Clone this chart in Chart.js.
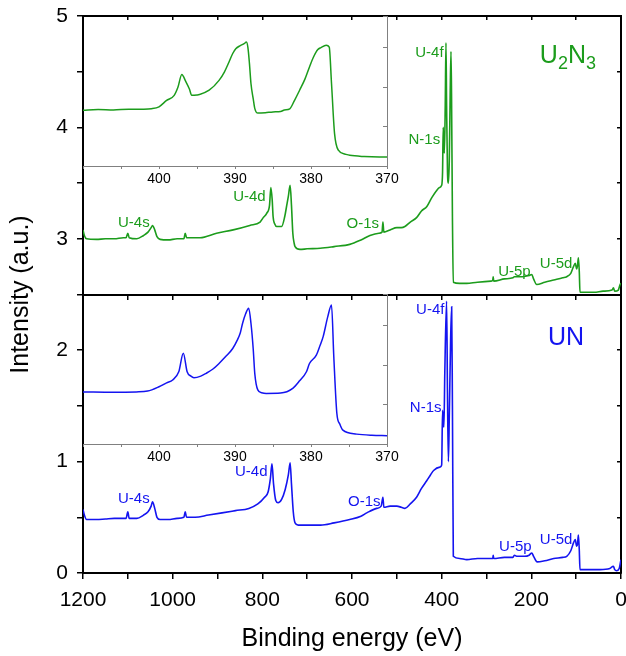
<!DOCTYPE html>
<html lang="en">
<head>
<meta charset="UTF-8">
<title>XPS survey U2N3 / UN</title>
<script src="https://cdn.jsdelivr.net/npm/chart.js@4"></script>
<style>
  body { margin: 0; background: #fff; }
  #wrap { position: relative; width: 626px; height: 656px; }
  #wrap canvas { position: absolute; }
</style>
</head>
<body>
<div id="wrap">
  <canvas id="main" width="626" height="656" style="left:0;top:0"></canvas>
  <canvas id="insetTop" width="350" height="200" style="left:60px;top:0px"></canvas>
  <canvas id="insetBot" width="350" height="200" style="left:60px;top:278px"></canvas>
</div>
<script>
// survey spectra (binding energy in eV, intensity in a.u., offset as plotted)
const energyU2N3 = [1200,1197,1192,1170,1150,1130,1110,1104,1100,1097,1080,1065,1055,1048,1045,1040,1035,1028,1010,990,975,972,969,939,902,865,828,805,798,790,784,781,778,776,772,768,757,750,746,742,738,735,732,729,727,716,700,671,640,605,580,560,540,533,531,529,515,500,490,482,470,456,445,433,422,412,405,400,398,396.5,395,394,392,390.4,389,387,385,383,381,379.2,378,376,374,360,344,320,290,286,285,284,260,241,238,220,205,199,195,188,170,150,130,121,112,106,102,99,97,95,93,91.5,80,60,40,20,17,14,6,2,0];
const intensityU2N3 = [3.08,3.03,3.00,2.995,3.0,3.0,3.01,3.01,3.05,3.01,3.0,3.03,3.06,3.1,3.12,3.08,3.02,2.995,2.99,3.0,3.0,3.05,3.01,3.01,3.05,3.08,3.12,3.15,3.19,3.23,3.3,3.46,3.35,3.2,3.13,3.11,3.11,3.2,3.29,3.38,3.48,3.3,3.05,2.96,2.93,2.905,2.91,2.915,2.93,2.95,2.99,3.03,3.05,3.06,3.15,3.06,3.08,3.1,3.1,3.11,3.15,3.19,3.25,3.29,3.37,3.43,3.46,3.48,3.6,4.0,3.82,3.77,4.2,4.76,4.2,3.6,3.5,3.7,4.3,4.68,4.3,3.2,2.61,2.6,2.6,2.61,2.62,2.63,2.66,2.62,2.64,2.65,2.66,2.66,2.67,2.68,2.64,2.59,2.61,2.63,2.65,2.66,2.69,2.75,2.78,2.73,2.76,2.83,2.7,2.52,2.52,2.52,2.53,2.54,2.56,2.53,2.54,2.59,2.6];

const energyUN = [1200,1197,1192,1170,1150,1130,1104,1100,1097,1080,1065,1055,1048,1045,1040,1035,1028,1010,990,975,972,969,950,920,890,860,830,810,795,787,782,778.5,775,770,765,757,749,742,738,735,731,727,720,700,670,640,605,580,567,545,535,531,529,515,500,490,482,470,456,445,433,425,418,404,400,398,396.5,395,393,389,387,385,383,380,377.7,376,374,360,344,320,290,286,285,284,260,241,238,233,215,205,199,195,187,170,150,130,121,112,106,102,99,97,95,93,91.5,70,47,25,17,14,10,4,1,0];
const intensityUN = [0.57,0.52,0.48,0.48,0.485,0.49,0.49,0.55,0.49,0.49,0.52,0.55,0.6,0.64,0.58,0.5,0.48,0.48,0.49,0.5,0.55,0.5,0.5,0.52,0.54,0.56,0.58,0.62,0.68,0.73,0.85,0.98,0.8,0.65,0.63,0.66,0.75,0.88,0.99,0.8,0.55,0.45,0.43,0.43,0.43,0.45,0.48,0.51,0.54,0.58,0.6,0.68,0.59,0.6,0.6,0.59,0.58,0.62,0.68,0.76,0.83,0.88,0.92,0.95,0.97,1.46,1.35,1.31,1.8,2.44,1.6,1.0,1.4,2.1,2.39,1.5,0.15,0.13,0.12,0.13,0.13,0.13,0.16,0.13,0.14,0.14,0.16,0.15,0.15,0.16,0.18,0.15,0.1,0.11,0.13,0.14,0.15,0.2,0.27,0.3,0.24,0.26,0.34,0.2,0.03,0.03,0.03,0.04,0.06,0.03,0.02,0.04,0.1,0.12];

// inset: U-4f / N-1s region
const insetEnergyU2N3 = [410,408,406,404,402,401,400,399,398,397.5,397,396.5,396,395.7,395,394.7,393.4,392.1,391.4,390.8,390.3,389.9,389.3,388.8,388.5,388.3,388.1,387.9,387.6,387.4,387,386,385,384,383.5,382.8,382.2,381.5,380.8,380.2,379.7,379.1,378.7,378,377.6,377.3,376.9,376.4,375.5,374.9,373,371,370];
const insetIntensityU2N3 = [1.41,1.43,1.42,1.44,1.44,1.45,1.5,1.66,1.79,2.0,2.32,2.15,1.95,1.79,1.8,1.81,1.92,2.17,2.38,2.63,2.85,2.97,3.05,3.1,3.14,3.0,2.6,2.09,1.7,1.46,1.34,1.35,1.37,1.38,1.42,1.45,1.65,1.92,2.2,2.51,2.75,2.95,3.0,3.06,3.01,2.09,0.82,0.4,0.3,0.27,0.24,0.23,0.23];
const insetEnergyUN = [410,406,403,401.5,400,399,398.2,397.4,396.8,396.3,395.8,395.4,394.5,393.8,392.9,392.1,391.2,390.3,389.7,389.3,389,388.6,388.2,387.9,387.6,387.4,387,386.5,385.9,384,382.4,381.5,380.6,380.2,379.3,378.8,378.4,377.8,377.3,377,376.6,376.2,375.8,374,372,370];
const insetIntensityUN = [1.32,1.31,1.32,1.34,1.45,1.55,1.62,1.83,2.3,1.83,1.72,1.68,1.72,1.79,1.9,2.04,2.22,2.42,2.63,2.82,3.06,3.3,3.44,3.06,2.4,1.79,1.37,1.3,1.28,1.29,1.41,1.6,1.83,2.04,2.25,2.5,2.72,3.22,3.52,2.21,0.78,0.5,0.35,0.25,0.22,0.21];

const insetTicks = [400, 390, 380, 370];
const mainTicks = [1200, 1000, 800, 600, 400, 200, 0];

const GREEN = '#1c9c1c';
const BLUE = '#1414f0';
Chart.defaults.font.family = "'Liberation Sans', Arial, sans-serif";

function pts(xs, ys) { return xs.map((x, i) => ({ x: x, y: ys[i] })); }

// no label-overflow padding: the chart area is set by layout.padding only
function noPad(s) { s.paddingLeft = 0; s.paddingRight = 0; s.paddingTop = 0; s.paddingBottom = 0; }

// peak labels, anchored at (energy, intensity); left/middle aligned
const peakLabelsU2N3 = [
  { t: 'U-4s', x: 1122, y: 3.14 }, { t: 'U-4d', x: 865, y: 3.375 },
  { t: 'O-1s', x: 612, y: 3.13 }, { t: 'N-1s', x: 474, y: 3.89 },
  { t: 'U-4f', x: 459, y: 4.665 }, { t: 'U-5p', x: 274, y: 2.705 },
  { t: 'U-5d', x: 181, y: 2.774 }
];
const peakLabelsUN = [
  { t: 'U-4s', x: 1122, y: 0.67 }, { t: 'U-4d', x: 861, y: 0.909 },
  { t: 'O-1s', x: 609, y: 0.64 }, { t: 'N-1s', x: 471, y: 1.478 },
  { t: 'U-4f', x: 457, y: 2.36 }, { t: 'U-5p', x: 272, y: 0.236 },
  { t: 'U-5d', x: 181, y: 0.296 }
];

const labelPlugin = {
  id: 'peakLabels',
  afterDraw(chart) {
    const ctx = chart.ctx, sx = chart.scales.x, sy = chart.scales.y;
    ctx.save();
    ctx.textAlign = 'left';
    ctx.textBaseline = 'middle';
    const groups = [[peakLabelsU2N3, GREEN], [peakLabelsUN, BLUE]];
    ctx.font = "15px 'Liberation Sans', Arial, sans-serif";
    groups.forEach(([items, col]) => {
      ctx.fillStyle = col;
      items.forEach(it => ctx.fillText(it.t, sx.getPixelForValue(it.x), sy.getPixelForValue(it.y)));
    });
    // sample names, with subscripts
    const drawParts = (parts, x, y, col) => {
      ctx.fillStyle = col;
      ctx.textBaseline = 'alphabetic';
      parts.forEach(([s, sub]) => {
        ctx.font = (sub ? 18 : 25) + "px 'Liberation Sans', Arial, sans-serif";
        ctx.fillText(s, x, y + (sub ? 6 : 0));
        x += ctx.measureText(s).width;
      });
    };
    drawParts([['U', 0], ['2', 1], ['N', 0], ['3', 1]], sx.getPixelForValue(181), sy.getPixelForValue(4.575), GREEN);
    drawParts([['UN', 0]], sx.getPixelForValue(163), sy.getPixelForValue(2.05), BLUE);
    ctx.restore();
  }
};

const black = '#000';
new Chart(document.getElementById('main'), {
  type: 'line',
  data: {
    datasets: [
      { label: 'U2N3', data: pts(energyU2N3, intensityU2N3), borderColor: GREEN, borderWidth: 1.6, pointRadius: 0, cubicInterpolationMode: 'monotone' },
      { label: 'UN', data: pts(energyUN, intensityUN), borderColor: BLUE, borderWidth: 1.6, pointRadius: 0, cubicInterpolationMode: 'monotone' }
    ]
  },
  options: {
    responsive: false,
    animation: false,
    events: [],
    layout: { padding: { top: 16, right: 5, left: 0, bottom: 0 } },
    plugins: { legend: { display: false }, tooltip: { enabled: false } },
    scales: {
      x: {
        type: 'linear', reverse: true, min: 0, max: 1200, position: 'bottom',
        ticks: { stepSize: 100, autoSkip: false, maxRotation: 0, color: black, font: { size: 21 }, padding: 9,
                 callback: v => mainTicks.includes(v) ? String(v) : '' },
        grid: { drawOnChartArea: false, tickLength: 6, color: black, lineWidth: 1.5 },
        border: { width: 2, color: black },
        title: { display: true, text: 'Binding energy (eV)', color: black, font: { size: 25 }, padding: { top: 0, bottom: 2 } },
        afterFit: s => { s.height = 83; noPad(s); }
      },
      xTop: {
        type: 'linear', reverse: true, min: 0, max: 1200, position: 'top',
        ticks: { display: false, stepSize: 100 },
        grid: { drawOnChartArea: false, tickLength: -4, color: black, lineWidth: 1.5 },
        border: { width: 2, color: black },
        afterFit: s => { s.height = 0; noPad(s); }
      },
      xMid: {
        type: 'linear', reverse: true, min: 0, max: 1200, position: { y: 2.5 },
        ticks: { display: false, stepSize: 100 },
        grid: { drawOnChartArea: false, tickLength: 4, color: black, lineWidth: 1.5 },
        border: { width: 2, color: black },
        afterFit: s => { s.height = 0; noPad(s); }
      },
      y: {
        type: 'linear', min: 0, max: 5, position: 'left',
        ticks: { stepSize: 0.5, color: black, font: { size: 21 }, padding: 9,
                 callback: v => Number.isInteger(v) ? String(v) : '' },
        grid: { drawOnChartArea: false, tickLength: 6, color: black, lineWidth: 1.5 },
        border: { width: 2, color: black },
        title: { display: true, text: 'Intensity (a.u.)', color: black, font: { size: 25 }, padding: { top: 6, bottom: 0 } },
        afterFit: s => { s.width = 83; noPad(s); }
      },
      yRight: {
        type: 'linear', min: 0, max: 5, position: 'right',
        ticks: { display: false, stepSize: 0.5 },
        grid: { drawOnChartArea: false, tickLength: -4, color: black, lineWidth: 1.5 },
        border: { width: 2, color: black },
        afterFit: s => { s.width = 0; noPad(s); }
      }
    }
  },
  plugins: [labelPlugin]
});

function makeInset(id, xs, ys, col) {
  const grey = '#808080';
  return new Chart(document.getElementById(id), {
    type: 'line',
    data: { datasets: [{ data: pts(xs, ys), borderColor: col, borderWidth: 1.5, pointRadius: 0, cubicInterpolationMode: 'monotone' }] },
    options: {
      responsive: false,
      animation: false,
      events: [],
      layout: { padding: { top: 16, left: 23, right: 23, bottom: 0 } },
      plugins: { legend: { display: false }, tooltip: { enabled: false } },
      scales: {
        x: {
          type: 'linear', reverse: true, min: 370, max: 410, position: 'bottom',
          ticks: { stepSize: 5, autoSkip: false, maxRotation: 0, color: black, font: { size: 14 }, padding: 2,
                   callback: v => insetTicks.includes(v) ? String(v) : '' },
          grid: { drawOnChartArea: false, tickLength: 3, color: grey },
          border: { width: 1, color: grey },
          afterFit: s => { s.height = 34; noPad(s); }
        },
        y: {
          type: 'linear', min: 0, max: 3.8, position: 'right',
          ticks: { display: false, stepSize: 1 },
          grid: { drawOnChartArea: false, tickLength: -4, color: grey },
          border: { width: 1, color: grey },
          afterFit: s => { s.width = 0; noPad(s); }
        }
      }
    }
  });
}
makeInset('insetTop', insetEnergyU2N3, insetIntensityU2N3, GREEN);
makeInset('insetBot', insetEnergyUN, insetIntensityUN, BLUE);
</script>
</body>
</html>
